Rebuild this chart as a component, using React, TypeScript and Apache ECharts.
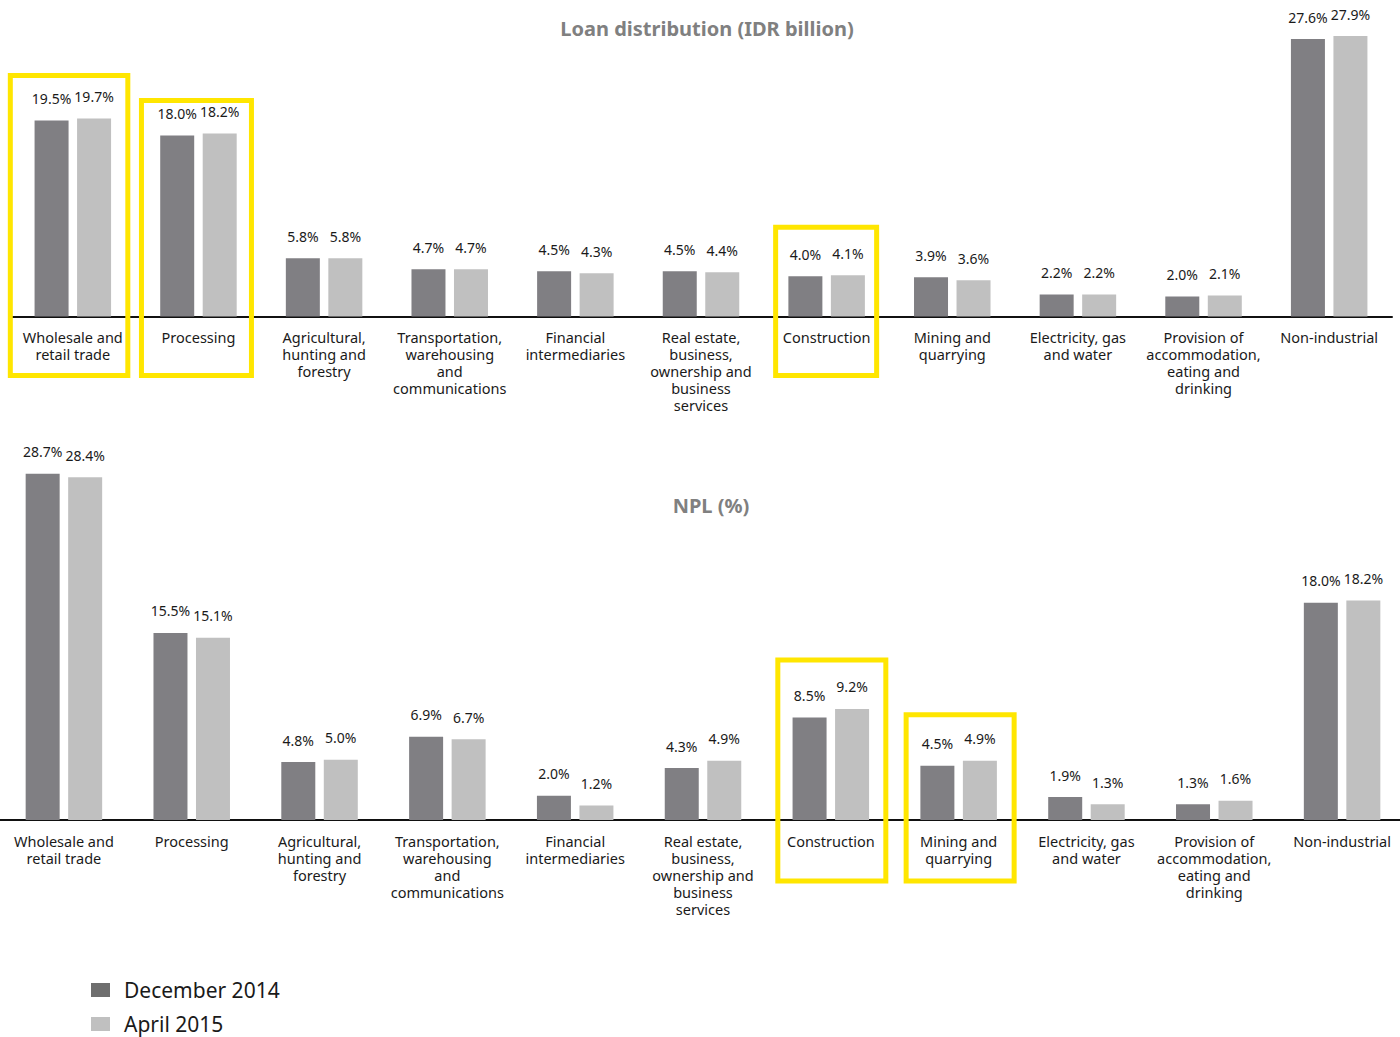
import React, { useEffect, useRef } from "react";
import * as echarts from "echarts";

const categories = [
  "Wholesale and\nretail trade",
  "Processing",
  "Agricultural,\nhunting and\nforestry",
  "Transportation,\nwarehousing\nand\ncommunications",
  "Financial\nintermediaries",
  "Real estate,\nbusiness,\nownership and\nbusiness\nservices",
  "Construction",
  "Mining and\nquarrying",
  "Electricity, gas\nand water",
  "Provision of\naccommodation,\neating and\ndrinking",
  "Non-industrial",
];

const seriesNames = ["December 2014", "April 2015"];

const loanDec2014 = [19.5, 18.0, 5.8, 4.7, 4.5, 4.5, 4.0, 3.9, 2.2, 2.0, 27.6];
const loanApr2015 = [19.7, 18.2, 5.8, 4.7, 4.3, 4.4, 4.1, 3.6, 2.2, 2.1, 27.9];

const nplDec2014 = [28.7, 15.5, 4.8, 6.9, 2.0, 4.3, 8.5, 4.5, 1.9, 1.3, 18.0];
const nplApr2015 = [28.4, 15.1, 5.0, 6.7, 1.2, 4.9, 9.2, 4.9, 1.3, 1.6, 18.2];

const titles = ["Loan distribution (IDR billion)", "NPL (%)"];

// highlighted categories per panel (index into categories)
const loanHighlighted = [0, 1, 6];
const nplHighlighted = [6, 7];

// box geometry (pixels relative to category centre / bar top / baseline)
const BOX_GEOM: Record<string, { l: number; r: number; pad: number; below: number }> = {
  "0-0": { l: 62.5, r: 55, pad: 43, below: 59 },
  "0-1": { l: 57, r: 53, pad: 33, below: 59 },
  "0-6": { l: 51, r: 50, pad: 48, below: 59 },
  "1-6": { l: 53, r: 55, pad: 49, below: 61 },
  "1-7": { l: 52.5, r: 55.5, pad: 46, below: 61 },
};

const DARK = "#807f83";
const LIGHT = "#c0c0c0";
const YELLOW = "#ffe600";
const FONT = "Noto Sans";

export default function App() {
  const ref = useRef<HTMLDivElement>(null);
  useEffect(() => {
    if (!ref.current) return;
    const chart = echarts.init(ref.current, undefined, { renderer: "svg" });

    const labelOpt = {
      show: true,
      position: "top",
      distance: 15,
      color: "#1a1a1a",
      fontFamily: FONT,
      fontSize: 14,
      formatter: (p: any) => Number(p.value).toFixed(1) + "%",
    };

    const mkSeries = (name: string, data: number[], color: string, idx: number) => ({
      type: "bar",
      name,
      data,
      xAxisIndex: idx,
      yAxisIndex: idx,
      barWidth: 34,
      barGap: "25%",
      itemStyle: { color },
      label: labelOpt,
    });

    const mkX = (idx: number) => ({
      type: "category",
      gridIndex: idx,
      data: categories,
      axisTick: { show: false },
      axisLine: { show: true, lineStyle: { color: "#111", width: 2 } },
      axisLabel: {
        interval: 0,
        margin: 12,
        color: "#1a1a1a",
        fontFamily: FONT,
        fontSize: 14.5,
        lineHeight: 17,
        align: "center",
      },
    });

    const mkY = (idx: number) => ({
      type: "value",
      gridIndex: idx,
      min: 0,
      max: 30,
      show: false,
      splitLine: { show: false },
    });

    chart.setOption({
      animation: false,
      backgroundColor: "#ffffff",
      title: [
        {
          text: titles[0],
          left: 702,
          top: 13,
          textAlign: "center",
          textStyle: { color: "#808080", fontFamily: FONT, fontSize: 20, fontWeight: "bold" },
        },
        {
          text: titles[1],
          left: 706,
          top: 490,
          textAlign: "center",
          textStyle: { color: "#808080", fontFamily: FONT, fontSize: 20, fontWeight: "bold" },
        },
      ],
      legend: {
        orient: "vertical",
        left: 91,
        top: 979,
        padding: 0,
        icon: "rect",
        itemWidth: 19,
        itemHeight: 14,
        itemGap: 12,
        textStyle: {
          color: "#1a1a1a",
          fontFamily: FONT,
          fontSize: 21,
          lineHeight: 22,
          padding: [0, 0, 0, 9],
        },
        data: [
          { name: seriesNames[0], itemStyle: { color: "#6e6e6e" } },
          { name: seriesNames[1], itemStyle: { color: "#c0c0c0" } },
        ],
      },
      grid: [
        { left: 10, top: 15, width: 1382, height: 301.5 },
        { left: 0, top: 458, width: 1406, height: 362 },
      ],
      xAxis: [mkX(0), mkX(1)],
      yAxis: [mkY(0), mkY(1)],
      series: [
        mkSeries(seriesNames[0], loanDec2014, DARK, 0),
        mkSeries(seriesNames[1], loanApr2015, LIGHT, 0),
        mkSeries(seriesNames[0], nplDec2014, DARK, 1),
        mkSeries(seriesNames[1], nplApr2015, LIGHT, 1),
      ],
    });

    const boxes: any[] = [];
    const panels = [
      { idx: 0, cats: loanHighlighted, a: loanDec2014, b: loanApr2015 },
      { idx: 1, cats: nplHighlighted, a: nplDec2014, b: nplApr2015 },
    ];
    panels.forEach((p) => {
      p.cats.forEach((c) => {
        const g = BOX_GEOM[`${p.idx}-${c}`];
        const cx = chart.convertToPixel({ xAxisIndex: p.idx } as any, c) as unknown as number;
        const yTop = chart.convertToPixel({ yAxisIndex: p.idx } as any, Math.max(p.a[c], p.b[c])) as unknown as number;
        const yBase = chart.convertToPixel({ yAxisIndex: p.idx } as any, 0) as unknown as number;
        const top = yTop - g.pad;
        const bottom = yBase + g.below;
        boxes.push({
          type: "rect",
          z: 100,
          shape: { x: cx - g.l, y: top, width: g.l + g.r, height: bottom - top },
          style: { fill: "none", stroke: YELLOW, lineWidth: 5 },
        });
      });
    });
    chart.setOption({ graphic: boxes });

    return () => chart.dispose();
  }, []);

  return (
    <div
      style={{
        position: "absolute",
        left: 0,
        top: 0,
        width: 1400,
        height: 1037,
        overflow: "hidden",
        background: "#ffffff",
      }}
    >
      <div ref={ref} style={{ width: 1410, height: 1037 }} />
    </div>
  );
}
